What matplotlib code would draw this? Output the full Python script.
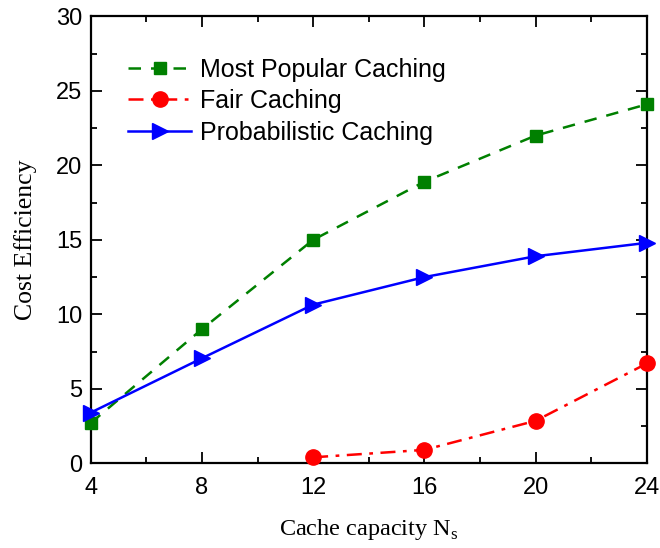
import matplotlib
matplotlib.use("Agg")
import matplotlib.pyplot as plt
from matplotlib.ticker import MultipleLocator

plt.rcParams['font.family'] = ['Liberation Sans', 'DejaVu Sans']
plt.rcParams['mathtext.fontset'] = 'custom'
plt.rcParams['mathtext.rm'] = 'Liberation Serif'

x_all = [4, 8, 12, 16, 20, 24]
most_popular = [2.7, 9.0, 15.0, 18.9, 22.0, 24.1]
x_fair = [12, 16, 20, 24]
fair = [0.4, 0.9, 2.85, 6.7]
probabilistic = [3.4, 7.05, 10.65, 12.5, 13.9, 14.8]

labels = ["Most Popular Caching", "Fair Caching", "Probabilistic Caching"]
xticks = [4, 8, 12, 16, 20, 24]
yticks = [0, 5, 10, 15, 20, 25, 30]

fig = plt.figure(figsize=(6.6, 5.48), dpi=100)
ax = fig.add_axes([0.1374, 0.1546, 0.980 - 0.1374, 0.970 - 0.1546])

ax.plot(x_all, most_popular, color='#008000', linestyle=(0, (5, 4)), linewidth=1.8,
        marker='s', markersize=9, label=labels[0], clip_on=False, zorder=3)
ax.plot(x_fair, fair, color='#ff0000', linestyle=(0, (6, 3, 1.5, 3)), linewidth=1.8,
        marker='o', markersize=11, label=labels[1], clip_on=False, zorder=3)
ax.plot(x_all, probabilistic, color='#0000ff', linestyle='-', linewidth=1.8,
        marker='>', markersize=11, label=labels[2], clip_on=False, zorder=3)

ax.set_xlim(4, 24)
ax.set_ylim(0, 30)
ax.set_xticks(xticks)
ax.set_yticks(yticks)
ax.xaxis.set_minor_locator(MultipleLocator(2))
ax.yaxis.set_minor_locator(MultipleLocator(2.5))
ax.tick_params(which='both', direction='in', top=True, right=True, width=1.3,
               labelsize=17)
ax.tick_params(axis='x', which='major', pad=10)
ax.tick_params(axis='y', which='major', pad=6)
ax.tick_params(which='major', length=8)
ax.tick_params(which='minor', length=4.5)
for s in ax.spines.values():
    s.set_linewidth(1.6)

ax.set_xlabel(r'Cache capacity N$_\mathrm{s}$', family='Liberation Serif', fontsize=17.5, labelpad=13)
ax.set_ylabel('Cost Efficiency', family='Liberation Serif', fontsize=18.5, labelpad=14)

leg = ax.legend(loc='upper left', bbox_to_anchor=(0.05, 0.93), frameon=False,
                fontsize=18, handlelength=2.5, handletextpad=0.35, labelspacing=0.3,
                borderaxespad=0)

fig.savefig('out.png', dpi=100)
